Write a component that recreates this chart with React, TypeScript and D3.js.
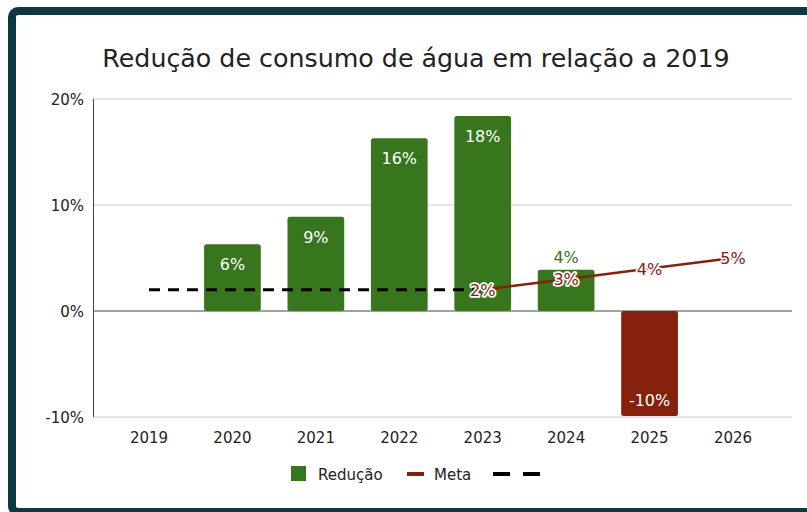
import * as d3 from "d3";

const years = ["2019", "2020", "2021", "2022", "2023", "2024", "2025", "2026"];
const reducao: (number | null)[] = [null, 0.063, 0.089, 0.163, 0.184, 0.039, -0.099, null];
const meta: (number | null)[] = [null, null, null, null, 0.02, 0.03, 0.04, 0.05];
const base: (number | null)[] = [0.02, 0.02, 0.02, 0.02, 0.02, null, null, null];
const yTicks = [-0.1, 0, 0.1, 0.2];

const GREEN = "#38761d";
const RED = "#85200c";
const FONT = "'DejaVu Sans', Verdana, sans-serif";

export default function App() {
  const width = 807;
  const height = 512;

  const x = d3
    .scaleBand<string>()
    .domain(years)
    .range([107.3, 774.7])
    .paddingInner(0.32)
    .paddingOuter(0.16);
  const cx = (yr: string) => (x(yr) ?? 0) + x.bandwidth() / 2;

  const y = d3.scaleLinear().domain([-0.1, 0.2]).range([417, 99]);
  const pct = (v: number) => `${Math.round(v * 100)}%`;

  const metaPts = years
    .map((yr, i) => ({ yr, v: meta[i] }))
    .filter((d) => d.v != null) as { yr: string; v: number }[];
  const basePts = years
    .map((yr, i) => ({ yr, v: base[i] }))
    .filter((d) => d.v != null) as { yr: string; v: number }[];

  const line = d3
    .line<{ yr: string; v: number }>()
    .x((d) => cx(d.yr))
    .y((d) => y(d.v));

  return (
    <svg
      width={width}
      height={height}
      style={{ position: "absolute", left: 0, top: 0, display: "block", background: "#fff" }}
      fontFamily={FONT}
    >
      {/* frame */}
      <rect x={12} y={11} width={900} height={501} rx={6} fill="#fff" stroke="#0e3841" strokeWidth={8} />

      <text x={416} y={67} textAnchor="middle" fontSize={25.3} fill="#222">
        Redução de consumo de água em relação a 2019
      </text>

      {/* grid */}
      {yTicks.map((t) => (
        <g key={t}>
          <line
            x1={93}
            x2={792}
            y1={y(t)}
            y2={y(t)}
            stroke={t === 0 ? "#444" : "#cccccc"}
            strokeWidth={1}
          />
          <text x={84} y={y(t) + 5.5} textAnchor="end" fontSize={15} fill="#222">
            {pct(t)}
          </text>
        </g>
      ))}
      <line x1={93.5} x2={93.5} y1={y(0.2)} y2={y(-0.1)} stroke="#444" strokeWidth={1} />

      {/* bars */}
      {years.map((yr, i) => {
        const v = reducao[i];
        if (v == null) return null;
        const top = y(Math.max(0, v));
        const h = Math.abs(y(v) - y(0));
        const bx = x(yr) ?? 0;
        const color = v >= 0 ? GREEN : RED;
        const small = v >= 0 && h < 45;
        let ly = v >= 0 ? top + 26 : y(v) - 10;
        if (small) ly = top - 7;
        return (
          <g key={yr}>
            <rect x={bx} y={top} width={x.bandwidth()} height={h} rx={2.5} fill={color} />
            <text
              x={cx(yr)}
              y={ly}
              textAnchor="middle"
              fontSize={16}
              fill={small ? GREEN : "#fff"}
            >
              {pct(v)}
            </text>
          </g>
        );
      })}

      {/* baseline dashed */}
      <path d={line(basePts) ?? ""} fill="none" stroke="#000" strokeWidth={3} strokeDasharray="11 8" />

      {/* meta line */}
      <path d={line(metaPts) ?? ""} fill="none" stroke={RED} strokeWidth={2.5} />
      {metaPts.map((d) => (
        <text
          key={d.yr}
          x={cx(d.yr)}
          y={y(d.v) + 6}
          textAnchor="middle"
          fontSize={16}
          fill={RED}
          stroke="#fff"
          strokeWidth={3.5}
          paintOrder="stroke"
          strokeLinejoin="round"
        >
          {pct(d.v)}
        </text>
      ))}

      {/* x labels */}
      {years.map((yr) => (
        <text key={yr} x={cx(yr)} y={443} textAnchor="middle" fontSize={15} fill="#222">
          {yr}
        </text>
      ))}

      {/* legend */}
      <rect x={291} y={466} width={15} height={15} fill={GREEN} />
      <text x={318} y={480} fontSize={15} fill="#222">Redução</text>
      <line x1={407} x2={424} y1={474} y2={474} stroke={RED} strokeWidth={4} />
      <text x={434} y={480} fontSize={15} fill="#222">Meta</text>
      <line x1={493} x2={510} y1={474} y2={474} stroke="#000" strokeWidth={4} />
      <line x1={523} x2={540} y1={474} y2={474} stroke="#000" strokeWidth={4} />
    </svg>
  );
}
